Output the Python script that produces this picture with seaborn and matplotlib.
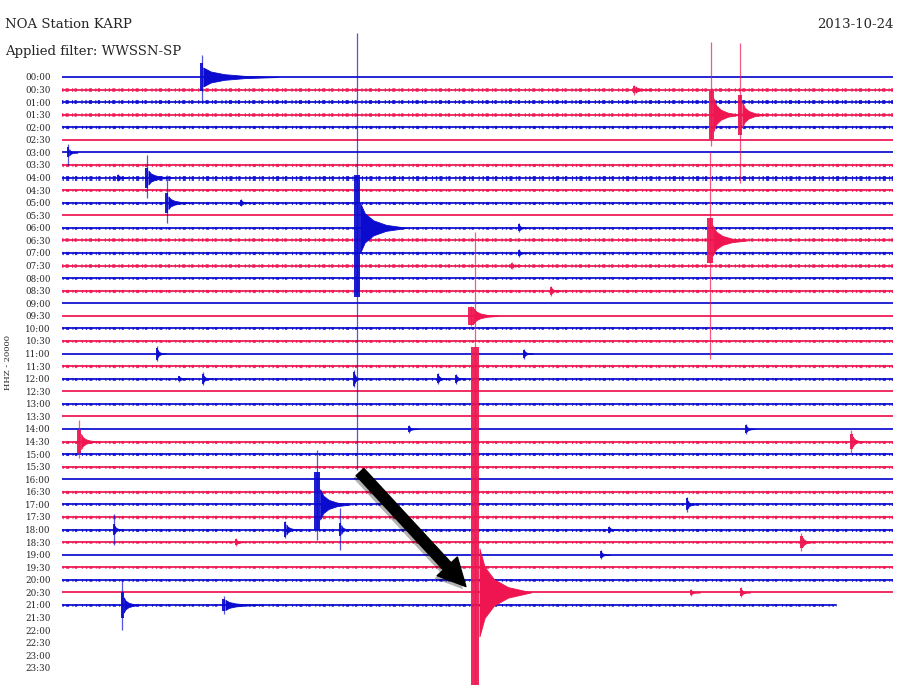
"""Helicorder plot of NOA station KARP, 2013-10-24 (WWSSN-SP filter)."""

import matplotlib
matplotlib.use("Agg")
import matplotlib.pyplot as plt
import matplotlib.patheffects as pe
from matplotlib.patches import FancyArrowPatch
import numpy as np
import seaborn as sns

TIMES = ["00:00", "00:30", "01:00", "01:30", "02:00", "02:30", "03:00", "03:30",
         "04:00", "04:30", "05:00", "05:30", "06:00", "06:30", "07:00", "07:30",
         "08:00", "08:30", "09:00", "09:30", "10:00", "10:30", "11:00", "11:30",
         "12:00", "12:30", "13:00", "13:30", "14:00", "14:30", "15:00", "15:30",
         "16:00", "16:30", "17:00", "17:30", "18:00", "18:30", "19:00", "19:30",
         "20:00", "20:30", "21:00", "21:30", "22:00", "22:30", "23:00", "23:30"]

# how noisy each recorded line looks (00:00 .. 21:00), drawn as speckle width
TRACE_NOISE = [1.4, 2.6, 2.9, 2.6, 2.3, 1.4, 1.4, 2.3, 3.6, 2.0, 2.2, 1.5,
               1.9, 2.6, 2.3, 2.6, 1.9, 2.3, 1.4, 1.5, 2.0, 2.0, 1.4, 2.3,
               2.0, 1.4, 1.9, 1.4, 1.5, 2.2, 2.2, 2.0, 1.4, 2.3, 2.0, 2.4,
               2.2, 1.8, 1.5, 1.9, 1.9, 1.5, 1.9]
LAST_TRACE_END = 27.95  # minutes, the 21:00 line stops early

# events: row, onset (minutes), amplitudes in row heights
EV_TIME = ["00:00", "00:30", "01:30", "01:30", "03:00", "04:00", "05:00",
           "06:00", "06:30", "09:30", "14:30", "14:30", "17:00", "18:00",
           "18:00", "18:00", "18:30", "20:30", "21:00", "21:00"]
EV_MINUTE = [4.98, 20.6, 23.36, 24.4, 0.18, 3.0, 3.72, 10.54, 23.29, 14.66,
             0.54, 28.45, 9.1, 1.84, 8.0, 10.0, 26.64, 14.77, 2.13, 5.78]
EV_SPIKE_UP = [1.75, 0.4, 5.8, 5.7, 0.7, 1.8, 2.2, 15.5, 7.0, 0.8,
               1.7, 0.9, 4.3, 1.2, 0.7, 1.7, 0.7, 28.7, 2.0, 0.7]
EV_SPIKE_DOWN = [1.8, 0.4, 2.5, 5.4, 1.0, 1.6, 1.6, 19.3, 9.4, 0.8,
                 1.3, 0.9, 2.8, 1.2, 0.7, 1.6, 0.7, 8.0, 2.0, 0.7]
EV_CORE_UP = [1.1, 0.3, 1.9, 1.6, 0.4, 0.8, 0.8, 4.2, 1.8, 0.7,
              0.9, 0.6, 2.6, 0.4, 0.6, 0.5, 0.5, 19.5, 1.0, 0.5]
EV_CORE_DOWN = [1.1, 0.3, 1.9, 1.6, 0.4, 0.8, 0.8, 5.5, 1.8, 0.7,
                0.9, 0.6, 2.0, 0.4, 0.6, 0.5, 0.5, 8.0, 1.0, 0.5]
EV_CORE_W = [0.12, 0.1, 0.16, 0.16, 0.08, 0.12, 0.12, 0.22, 0.2, 0.2,
             0.15, 0.1, 0.22, 0.06, 0.1, 0.08, 0.1, 0.3, 0.1, 0.12]
EV_CODA_AMP = [0.75, 0.25, 1.3, 1.0, 0.25, 0.55, 0.5, 2.0, 1.2, 0.6,
               0.6, 0.4, 1.2, 0.3, 0.4, 0.35, 0.35, 3.5, 0.6, 0.4]
EV_CODA_LEN = [2.7, 0.6, 0.95, 0.8, 0.3, 0.9, 0.8, 1.7, 1.25, 0.9,
               0.6, 0.4, 1.1, 0.3, 0.45, 0.3, 0.4, 1.87, 0.6, 1.3]

# small bursts: row, minute, half height
BLIP_TIME = ["04:00", "05:00", "06:00", "07:00", "07:30", "08:30", "11:00",
             "11:00", "12:00", "12:00", "12:00", "12:00", "12:00", "14:00",
             "14:00", "17:00", "18:00", "19:00", "20:30", "20:30", "18:30"]
BLIP_MINUTE = [1.99, 6.43, 16.46, 16.46, 16.2, 17.62, 3.39, 16.64, 4.2, 5.05,
               10.5, 13.54, 14.19, 12.49, 24.66, 22.53, 19.71, 19.42, 24.48,
               22.67, 6.25]
BLIP_AMP = [0.3, 0.3, 0.35, 0.3, 0.3, 0.4, 0.6, 0.4, 0.25, 0.5, 0.7, 0.45,
            0.4, 0.3, 0.4, 0.6, 0.3, 0.35, 0.4, 0.25, 0.3]

BLUE = "#0b0bd0"
RED = "#ee1550"
CODA_SHAPE = np.array([[0.0, 1.0], [0.1, 0.58], [0.28, 0.3], [0.55, 0.12], [1.0, 0.0]])
SPECKLE = (0, (1.0, 1.6, 2.2, 2.4, 0.7, 1.1, 1.6, 3.4, 0.8, 2.0))

PX_W, PX_H = 900, 685
X0_PX, X1_PX = 62, 893
ROW0_PX, ROW_PX = 77, 12.57


def draw_event(ax, row, t0, sp_up, sp_dn, c_up, c_dn, c_w, amp, length, color):
    ax.vlines(t0 + c_w / 2, row - sp_up, row + sp_dn, color=color, lw=0.9, alpha=0.7, zorder=3)
    ax.fill_between([t0, t0 + c_w], row - c_up, row + c_dn, color=color, lw=0, alpha=0.92, zorder=3)
    xs = t0 + c_w + CODA_SHAPE[:, 0] * length
    hs = amp * CODA_SHAPE[:, 1]
    ax.fill_between(xs, row - hs, row + hs, color=color, lw=0.6, edgecolor=color, zorder=3)


def main() -> None:
    sns.set_style("white")
    plt.rcParams["font.family"] = ["DejaVu Serif"]
    plt.rcParams["lines.scale_dashes"] = False

    fig = plt.figure(figsize=(PX_W / 100, PX_H / 100), dpi=100)
    ax = fig.add_axes([X0_PX / PX_W, 0, (X1_PX - X0_PX) / PX_W, 1])
    row_of = {t: i for i, t in enumerate(TIMES)}

    # recorded lines: thin solid core plus a speckled band for the noise
    for i, noise in enumerate(TRACE_NOISE):
        end = LAST_TRACE_END if i == len(TRACE_NOISE) - 1 else 30
        color = BLUE if i % 2 == 0 else RED
        sns.lineplot(x=[0, end], y=[i, i], color=color, linewidth=1.25, ax=ax, zorder=2)
        if noise > 1.5:
            ax.plot([0, end], [i, i], color=color, linewidth=noise, linestyle=SPECKLE,
                    alpha=0.85, solid_capstyle="butt", zorder=2)

    # events
    for k, t in enumerate(EV_TIME):
        i = row_of[t]
        color = BLUE if i % 2 == 0 else RED
        draw_event(ax, i, EV_MINUTE[k], EV_SPIKE_UP[k], EV_SPIKE_DOWN[k], EV_CORE_UP[k],
                   EV_CORE_DOWN[k], EV_CORE_W[k], EV_CODA_AMP[k], EV_CODA_LEN[k], color)
    for t, m, a in zip(BLIP_TIME, BLIP_MINUTE, BLIP_AMP):
        i = row_of[t]
        color = BLUE if i % 2 == 0 else RED
        draw_event(ax, i, m, a, a, a * 0.8, a * 0.8, 0.06, a * 0.5, 0.3, color)

    # arrow pointing at the 20:30 event
    big = EV_TIME.index("20:30")
    tip = (EV_MINUTE[big] - 0.12, row_of["20:30"] - 0.3)
    arrow = FancyArrowPatch((10.69, 31.26), tip,
                            arrowstyle="simple,head_length=1.1,head_width=1.1,tail_width=0.42",
                            mutation_scale=18, color="black", zorder=5, capstyle="round",
                            path_effects=[pe.SimplePatchShadow(offset=(-2, -2), alpha=0.3), pe.Normal()])
    ax.add_patch(arrow)

    ax.set_xlim(0, 30)
    ax.set_ylim((PX_H - ROW0_PX) / ROW_PX, -ROW0_PX / ROW_PX)
    ax.set_yticks(range(len(TIMES)))
    ax.set_yticklabels(TIMES, fontsize=6.3)
    ax.tick_params(axis="y", length=0, pad=8)
    ax.set_xticks([])
    sns.despine(ax=ax, left=True, bottom=True)
    ax.set_xlabel("")
    ax.set_ylabel("")

    fig.text(5 / PX_W, 1 - 25 / PX_H, "NOA Station KARP", fontsize=9.5, va="center", ha="left")
    fig.text(5 / PX_W, 1 - 52 / PX_H, "Applied filter: WWSSN-SP", fontsize=9.5, va="center", ha="left")
    fig.text(X1_PX / PX_W, 1 - 25 / PX_H, "2013-10-24", fontsize=9.5, va="center", ha="right")
    fig.text(8 / PX_W, 1 - 362 / PX_H, "HHZ - 20000", fontsize=6, rotation=90, va="center", ha="center")

    fig.savefig("out.png", dpi=100, facecolor="white")


if __name__ == "__main__":
    main()
